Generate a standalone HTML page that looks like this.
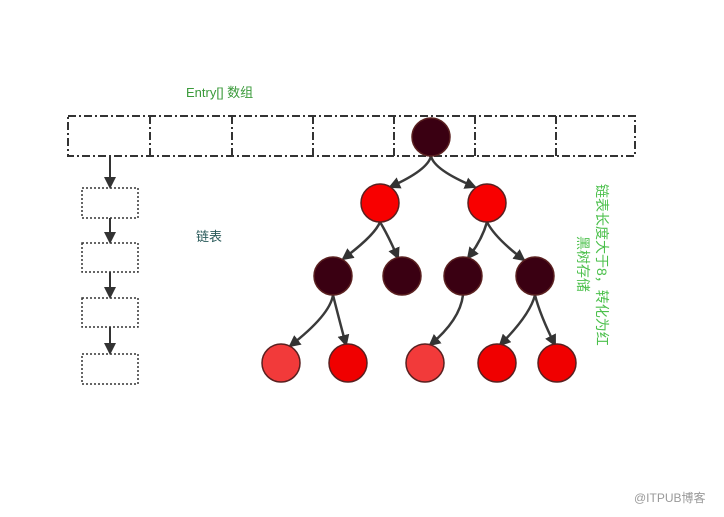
<!DOCTYPE html>
<html><head><meta charset="utf-8"><style>
body{margin:0;background:#fff;width:724px;height:512px;overflow:hidden}
text{font-family:"Liberation Sans","Noto Sans CJK SC",sans-serif}
</style></head><body>
<svg width="724" height="512" viewBox="0 0 724 512">
<defs>
<marker id="a" markerWidth="12" markerHeight="12" refX="10" refY="6" orient="auto" markerUnits="userSpaceOnUse">
<path d="M0,0 L12,6 L0,12 Z" fill="#333"/></marker>
</defs>
<text x="186" y="97" font-size="13" fill="#3a9a3a">Entry[] 数组</text>
<g fill="none" stroke="#333" stroke-width="2" stroke-dasharray="8,3,2,3">
<rect x="68" y="116" width="567" height="40"/>
<line x1="150" y1="116" x2="150" y2="156"/><line x1="232" y1="116" x2="232" y2="156"/>
<line x1="313" y1="116" x2="313" y2="156"/><line x1="394" y1="116" x2="394" y2="156"/>
<line x1="475" y1="116" x2="475" y2="156"/><line x1="556" y1="116" x2="556" y2="156"/>
</g>
<g fill="none" stroke="#333" stroke-width="1.5" stroke-dasharray="2,2">
<rect x="82" y="188" width="56" height="30"/><rect x="82" y="243" width="56" height="29"/>
<rect x="82" y="298" width="56" height="29"/><rect x="82" y="354" width="56" height="30"/>
</g>
<g stroke="#333" stroke-width="2" marker-end="url(#a)">
<line x1="110" y1="156" x2="110" y2="187"/><line x1="110" y1="218" x2="110" y2="242"/>
<line x1="110" y1="272" x2="110" y2="297"/><line x1="110" y1="327" x2="110" y2="353"/>
</g>
<text x="196" y="241" font-size="13" fill="#2a5a5a">链表</text>
<g fill="none" stroke="#3a3a3a" stroke-width="2.5" marker-end="url(#a)">
<path d="M431,156 Q428,170 390,187"/><path d="M431,156 Q434,170 475,187"/>
<path d="M380,222 Q375,235 343,259"/><path d="M380,222 Q388,235 398,258"/>
<path d="M487,222 Q482,240 468,258"/><path d="M487,222 Q495,238 524,260"/>
<path d="M333,295 Q330,315 290,346"/><path d="M333,295 Q338,315 346,345"/>
<path d="M463,295 Q460,320 430,345"/>
<path d="M535,295 Q530,315 500,345"/><path d="M535,295 Q540,315 555,345"/>
</g>
<g stroke="#5a2020" stroke-width="1.5">
<circle cx="431" cy="137" r="19" fill="#3a0012"/>
<circle cx="380" cy="203" r="19" fill="#f80000"/><circle cx="487" cy="203" r="19" fill="#f80000"/>
<circle cx="333" cy="276" r="19" fill="#3a0012"/><circle cx="402" cy="276" r="19" fill="#3a0012"/>
<circle cx="463" cy="276" r="19" fill="#3a0012"/><circle cx="535" cy="276" r="19" fill="#3a0012"/>
<circle cx="281" cy="363" r="19" fill="#f23a3a"/><circle cx="348" cy="363" r="19" fill="#f00000"/>
<circle cx="425" cy="363" r="19" fill="#f23a3a"/><circle cx="497" cy="363" r="19" fill="#f00000"/>
<circle cx="557" cy="363" r="19" fill="#f00000"/>
</g>
<text transform="translate(597,184) rotate(90)" font-size="14" fill="#4cc04c">链表长度大于8，转化为红</text>
<text transform="translate(578,236) rotate(90)" font-size="14" fill="#4cc04c">黑树存储</text>
<text x="634" y="502" font-size="12" fill="#999">@ITPUB博客</text>
</svg>
</body></html>
